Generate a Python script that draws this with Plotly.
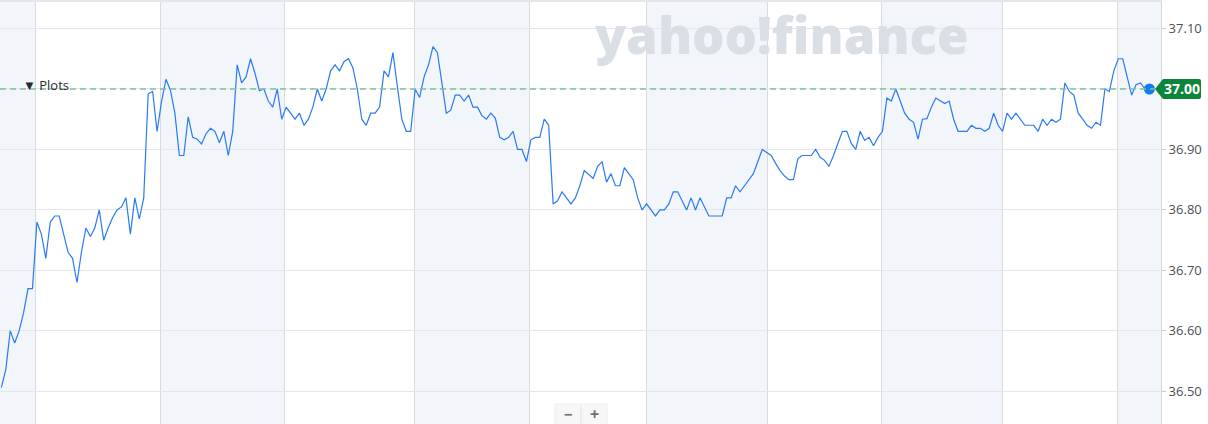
import plotly.graph_objects as go

# ---- data ----
price = [
    36.506, 36.536, 36.60, 36.58, 36.60, 36.63, 36.67, 36.67, 36.78, 36.76,
    36.72, 36.78, 36.79, 36.79, 36.76, 36.73, 36.72, 36.68, 36.73, 36.77,
    36.756, 36.77, 36.80, 36.75, 36.77, 36.787, 36.80, 36.805, 36.82, 36.76,
    36.82, 36.785, 36.82, 36.992, 36.996, 36.93, 36.979, 37.016, 36.998, 36.96,
    36.89, 36.89, 36.954, 36.92, 36.917, 36.909, 36.926, 36.935, 36.93, 36.911,
    36.93, 36.89, 36.93, 37.04, 37.01, 37.02, 37.05, 37.026, 36.997, 37.00,
    36.98, 36.97, 37.00, 36.95, 36.97, 36.96, 36.95, 36.96, 36.94, 36.95,
    36.97, 37.00, 36.98, 37.00, 37.03, 37.04, 37.03, 37.045, 37.05, 37.035,
    37.00, 36.95, 36.94, 36.96, 36.96, 36.97, 37.03, 37.02, 37.06, 37.004,
    36.95, 36.93, 36.93, 37.00, 36.986, 37.02, 37.04, 37.07, 37.06, 37.01,
    36.96, 36.965, 36.99, 36.99, 36.98, 36.99, 36.97, 36.97, 36.956, 36.95,
    36.96, 36.952, 36.92, 36.916, 36.92, 36.93, 36.90, 36.90, 36.88, 36.916,
    36.92, 36.92, 36.95, 36.94, 36.81, 36.815, 36.83, 36.82, 36.81, 36.82,
    36.84, 36.865, 36.858, 36.852, 36.872, 36.88, 36.846, 36.86, 36.84, 36.84,
    36.87, 36.86, 36.85, 36.82, 36.80, 36.81, 36.80, 36.79, 36.80, 36.80,
    36.81, 36.83, 36.83, 36.815, 36.80, 36.82, 36.80, 36.82, 36.805, 36.79,
    36.79, 36.79, 36.79, 36.82, 36.82, 36.84, 36.83, 36.84, 36.85, 36.86,
    36.88, 36.90, 36.895, 36.89, 36.877, 36.865, 36.856, 36.85, 36.85, 36.885,
    36.89, 36.89, 36.89, 36.90, 36.887, 36.882, 36.872, 36.89, 36.91, 36.93,
    36.93, 36.91, 36.90, 36.93, 36.915, 36.92, 36.906, 36.92, 36.93, 36.985,
    36.98, 37.00, 36.98, 36.96, 36.95, 36.945, 36.917, 36.95, 36.951, 36.97,
    36.985, 36.98, 36.976, 36.98, 36.95, 36.93, 36.93, 36.93, 36.94, 36.935,
    36.935, 36.93, 36.935, 36.96, 36.94, 36.93, 36.96, 36.95, 36.96, 36.95,
    36.94, 36.94, 36.94, 36.93, 36.95, 36.94, 36.95, 36.945, 36.95, 37.01,
    36.996, 36.99, 36.96, 36.95, 36.94, 36.935, 36.945, 36.94, 37.00, 36.996,
    37.03, 37.05, 37.05, 37.02, 36.99, 37.007, 37.01, 37.00, 37.00,
]
session_edges = [7.6, 35.7, 63.7, 92.9, 118.8, 144.9, 172.1, 197.9, 224.9, 250.9]
y_ticks = [36.50, 36.60, 36.70, 36.80, 36.90, 37.00, 37.10]
last_price = 37.00
watermark = "yahoo!finance"
plots_label = "▼ Plots"

x = list(range(len(price)))
X0, X1 = -0.3, 260.6
Y0, Y1 = 36.446, 37.1455

LINE = "#2a7af3"
BAND = "#f2f5f9"
VGRID = "#d7dadf"
HGRID = "#e4e6e9"

fig = go.Figure()
fig.add_trace(go.Scatter(x=x, y=price, mode="lines",
                         line=dict(color=LINE, width=1.2), hoverinfo="skip"))
fig.add_trace(go.Scatter(x=[x[-1]], y=[price[-1]], mode="markers",
                         marker=dict(color="#0e7ef0", size=11), hoverinfo="skip",
                         cliponaxis=False))

W = 1161.0
H = 423.0
px = lambda p: p / W
yp = lambda v, off=0.0: (v - Y0) / (Y1 - Y0) + off / H   # value -> paper y, off in px (up)

shapes = []
# alternating shaded session bands
edges = [X0] + session_edges + [X1]
for k in range(0, len(edges) - 1, 2):
    shapes.append(dict(type="rect", xref="x", yref="paper", x0=edges[k], x1=edges[k + 1],
                       y0=0, y1=1, fillcolor=BAND, line_width=0, layer="below"))
# top border
shapes.append(dict(type="line", xref="paper", yref="paper", x0=0, x1=1, y0=1, y1=1,
                   line=dict(color=HGRID, width=2)))
# dashed last-price line
shapes.append(dict(type="line", xref="paper", yref="y", x0=0, x1=0.995,
                   y0=last_price, y1=last_price,
                   line=dict(color="#7cc29c", width=1.5, dash="6px,4px")))
# green price tag (paper coords so it may sit outside the plot area)
c = yp(last_price)
tag = (f"M {px(1155)},{c} "
       f"L {px(1163)},{yp(last_price, 10)} L {px(1199)},{yp(last_price, 10)} "
       f"Q {px(1201)},{yp(last_price, 10)} {px(1201)},{yp(last_price, 8)} "
       f"L {px(1201)},{yp(last_price, -8)} "
       f"Q {px(1201)},{yp(last_price, -10)} {px(1199)},{yp(last_price, -10)} "
       f"L {px(1163)},{yp(last_price, -10)} Z")
shapes.append(dict(type="path", xref="paper", yref="paper", path=tag,
                   fillcolor="#0b8539", line_width=0))
# zoom control box
shapes.append(dict(type="rect", xref="paper", yref="paper", x0=px(555), x1=px(607),
                   y0=-2 / H, y1=20 / H, fillcolor="#f7f7f7",
                   line=dict(color="#eeeeee", width=1)))
shapes.append(dict(type="line", xref="paper", yref="paper", x0=px(581), x1=px(581),
                   y0=0, y1=18 / H, line=dict(color="#e2e2e2", width=1)))

annotations = [
    dict(xref="paper", yref="paper", x=px(1182), y=yp(last_price), text="<b>37.00</b>",
         showarrow=False, font=dict(family="Open Sans", size=14, color="white"),
         xanchor="center", yanchor="middle"),
    dict(xref="paper", yref="paper", x=px(21), y=yp(last_price, 4), text=plots_label,
         showarrow=False, font=dict(family="Open Sans", size=13, color="#232a31"),
         xanchor="left", yanchor="middle"),
    dict(xref="paper", yref="paper", x=px(781), y=1 - 33 / H, text=watermark,
         showarrow=False, font=dict(family="Open Sans", size=51, color="#dadee5", weight=800),
         xanchor="center", yanchor="middle"),
    dict(xref="paper", yref="paper", x=px(568), y=10 / H, text="<b>−</b>",
         showarrow=False, font=dict(family="Open Sans", size=15, color="#6e6e6e"),
         xanchor="center", yanchor="middle"),
    dict(xref="paper", yref="paper", x=px(594), y=10 / H, text="<b>+</b>",
         showarrow=False, font=dict(family="Open Sans", size=16, color="#6e6e6e"),
         xanchor="center", yanchor="middle"),
]

# the 37.00 tick label is covered by the price tag in the reference
tick_text = ["" if abs(v - last_price) < 1e-9 else f"{v:.2f}" for v in y_ticks]

fig.update_layout(
    width=1208, height=424,
    margin=dict(l=0, r=47, t=1, b=0, autoexpand=False),
    paper_bgcolor="white", plot_bgcolor="white",
    showlegend=False,
    shapes=shapes, annotations=annotations,
    xaxis=dict(range=[X0, X1], tickvals=session_edges, showticklabels=False,
               showgrid=True, gridcolor=VGRID, gridwidth=1, zeroline=False,
               showline=False, ticks=""),
    yaxis=dict(range=[Y0, Y1], side="right", tickvals=y_ticks, ticktext=tick_text,
               showgrid=True, gridcolor=HGRID, gridwidth=1, zeroline=False,
               showline=True, linecolor="#d3d6da", linewidth=1,
               ticks="outside", ticklen=4, tickcolor="#c8cbd0",
               tickfont=dict(family="Open Sans", size=13, color="#4a4f55")),
)

fig.write_html("out.html", config={"displayModeBar": False},
               post_script="document.body.style.margin='0';")
